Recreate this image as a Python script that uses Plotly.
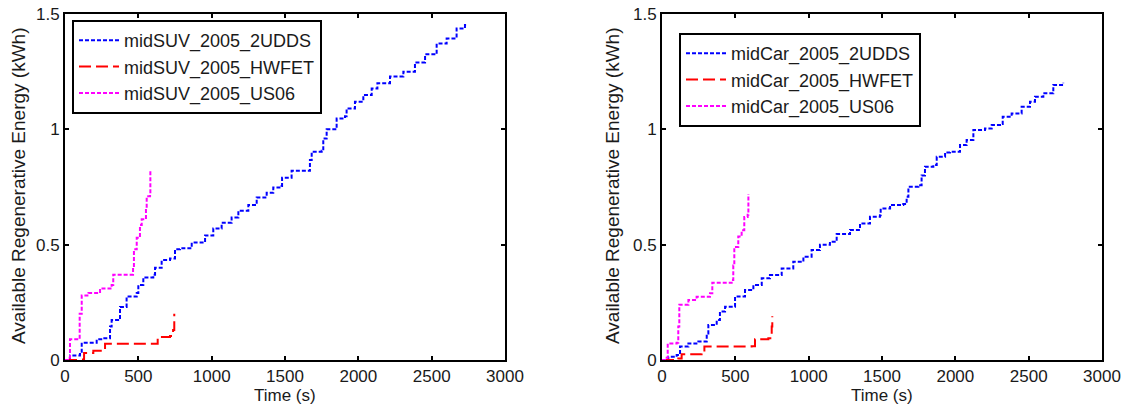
import plotly.graph_objects as go

# ---------------- data ----------------
suv_udds_t = [0, 34, 102, 114, 216, 261, 307, 318, 375, 420, 489, 500, 534, 602, 614, 659, 716, 750, 784,
              864, 943, 955, 1011, 1068, 1136, 1182, 1250, 1307, 1375, 1420, 1477, 1480, 1545, 1659, 1670,
              1682, 1750, 1761, 1784, 1841, 1852, 1909, 1920, 1977, 2034, 2091, 2130, 2216, 2307, 2386,
              2455, 2534, 2602, 2670, 2727, 2740]
suv_udds_e = [0, 0.02, 0.026, 0.075, 0.09, 0.094, 0.145, 0.173, 0.23, 0.275, 0.29, 0.325, 0.358, 0.37, 0.40,
              0.433, 0.44, 0.48, 0.484, 0.509, 0.509, 0.54, 0.57, 0.595, 0.618, 0.647, 0.672, 0.705, 0.725,
              0.748, 0.754, 0.79, 0.82, 0.82, 0.867, 0.903, 0.907, 0.96, 1.0, 1.0, 1.047, 1.057, 1.09, 1.12,
              1.149, 1.177, 1.2, 1.229, 1.25, 1.29, 1.325, 1.372, 1.394, 1.437, 1.452, 1.455]

suv_hwfet_t = [0, 125, 130, 193, 260, 273, 625, 632, 716, 737, 745]
suv_hwfet_e = [0, 0.003, 0.03, 0.04, 0.043, 0.07, 0.07, 0.10, 0.104, 0.13, 0.20]

suv_us06_t = [0, 20, 34, 80, 100, 114, 160, 239, 318, 329, 443, 464, 470, 489, 511, 523, 552, 557, 580, 582]
suv_us06_e = [0, 0.01, 0.09, 0.09, 0.20, 0.28, 0.29, 0.31, 0.325, 0.37, 0.37, 0.40, 0.48, 0.53, 0.585,
              0.61, 0.66, 0.71, 0.72, 0.82]

car_udds_t = [0, 43, 100, 123, 180, 248, 305, 316, 373, 395, 430, 498, 566, 623, 680, 736, 816, 895, 964,
              1020, 1077, 1145, 1191, 1282, 1350, 1418, 1486, 1491, 1555, 1645, 1668, 1680, 1748, 1770,
              1793, 1850, 1873, 1930, 1964, 2032, 2077, 2123, 2202, 2248, 2305, 2323, 2384, 2452, 2509,
              2543, 2600, 2668, 2736]
car_udds_e = [0, 0.014, 0.022, 0.058, 0.072, 0.08, 0.115, 0.152, 0.173, 0.21, 0.231, 0.275, 0.303, 0.325,
              0.354, 0.368, 0.397, 0.426, 0.448, 0.477, 0.50, 0.513, 0.546, 0.564, 0.592, 0.621, 0.628,
              0.657, 0.672, 0.676, 0.708, 0.751, 0.758, 0.80, 0.838, 0.845, 0.881, 0.90, 0.903, 0.932,
              0.954, 0.997, 1.004, 1.019, 1.023, 1.055, 1.069, 1.098, 1.12, 1.141, 1.156, 1.192, 1.202]

car_hwfet_t = [0, 111, 134, 270, 289, 611, 634, 725, 748, 752]
car_hwfet_e = [0, 0.007, 0.025, 0.032, 0.058, 0.06, 0.09, 0.094, 0.145, 0.19]

car_us06_t = [0, 20, 39, 100, 111, 118, 180, 236, 327, 343, 475, 486, 493, 520, 543, 561, 584, 589]
car_us06_e = [0, 0.01, 0.072, 0.075, 0.145, 0.24, 0.26, 0.274, 0.289, 0.335, 0.347, 0.41, 0.49, 0.535,
              0.563, 0.62, 0.63, 0.72]

x_ticks = [0, 500, 1000, 1500, 2000, 2500, 3000]
x_tick_labels = ["0", "500", "1000", "1500", "2000", "2500", "3000"]
y_ticks = [0, 0.5, 1, 1.5]
y_tick_labels = ["0", "0.5", "1", "1.5"]

left_names = ["midSUV_2005_2UDDS", "midSUV_2005_HWFET", "midSUV_2005_US06"]
right_names = ["midCar_2005_2UDDS", "midCar_2005_HWFET", "midCar_2005_US06"]

# ---------------- style ----------------
FONT = "Liberation Sans, Arial, Helvetica, sans-serif"
W, H = 1130, 404
styles = [
    dict(color="#0000FF", width=2, dash="4px,2px"),
    dict(color="#FF0000", width=2, dash="12px,5px"),
    dict(color="#FF00FF", width=2, dash="4px,2px"),
]

fig = go.Figure()
left_series = [(suv_udds_t, suv_udds_e), (suv_hwfet_t, suv_hwfet_e), (suv_us06_t, suv_us06_e)]
right_series = [(car_udds_t, car_udds_e), (car_hwfet_t, car_hwfet_e), (car_us06_t, car_us06_e)]

for (t, e), name, st in zip(left_series, left_names, styles):
    fig.add_trace(go.Scatter(x=t, y=e, name=name, mode="lines", line=dict(shape="hv", **st),
                             xaxis="x", yaxis="y", legend="legend"))
for (t, e), name, st in zip(right_series, right_names, styles):
    fig.add_trace(go.Scatter(x=t, y=e, name=name, mode="lines", line=dict(shape="hv", **st),
                             xaxis="x2", yaxis="y2", legend="legend2"))

TICKFONT = dict(family=FONT, size=17, color="#1a1a1a")

def xax(domain, anchor):
    return dict(domain=domain, anchor=anchor, range=[0, 3000], tickvals=x_ticks, ticktext=x_tick_labels,
                showgrid=False, zeroline=False, showline=True, linecolor="black", linewidth=2,
                mirror="ticks", ticks="inside", ticklen=4, tickwidth=2, tickcolor="black",
                tickfont=TICKFONT, automargin=False)

def yax(domain, anchor):
    return dict(domain=domain, anchor=anchor, range=[0, 1.5], tickvals=y_ticks, ticktext=y_tick_labels,
                showgrid=False, zeroline=False, showline=True, linecolor="black", linewidth=2,
                mirror="ticks", ticks="inside", ticklen=4, tickwidth=2, tickcolor="black",
                tickfont=TICKFONT, automargin=False)

ydom = [44 / H, 390 / H]
legend_common = dict(font=dict(family=FONT, size=18, color="#1a1a1a"), bgcolor="white",
                     bordercolor="black", borderwidth=2, xanchor="left", yanchor="top",
                     tracegroupgap=0, itemwidth=40)

fig.update_layout(
    width=W, height=H,
    margin=dict(l=0, r=0, t=0, b=0),
    paper_bgcolor="white", plot_bgcolor="white",
    font=dict(family=FONT, color="#1a1a1a"),
    xaxis=xax([65 / W, 505 / W], "y"),
    yaxis=yax(ydom, "x"),
    xaxis2=xax([662 / W, 1102 / W], "y2"),
    yaxis2=yax(ydom, "x2"),
    legend=dict(x=72 / W, y=1 - 20 / H, **legend_common),
    legend2=dict(x=679 / W, y=1 - 33 / H, **legend_common),
    showlegend=True,
)

ytitle = "Available Regenerative Energy (kWh)"
for xc in (18, 612):
    fig.add_annotation(text=ytitle, x=xc / W, y=1 - 186 / H, xref="paper", yref="paper",
                       textangle=-90, showarrow=False, xanchor="center", yanchor="middle",
                       font=dict(family=FONT, size=19, color="#1a1a1a"))
for xc in (285, 882):
    fig.add_annotation(text="Time (s)", x=xc / W, y=1 - 395 / H, xref="paper", yref="paper",
                       showarrow=False, xanchor="center", yanchor="middle",
                       font=dict(family=FONT, size=17, color="#1a1a1a"))

fig.write_html("out.html")
